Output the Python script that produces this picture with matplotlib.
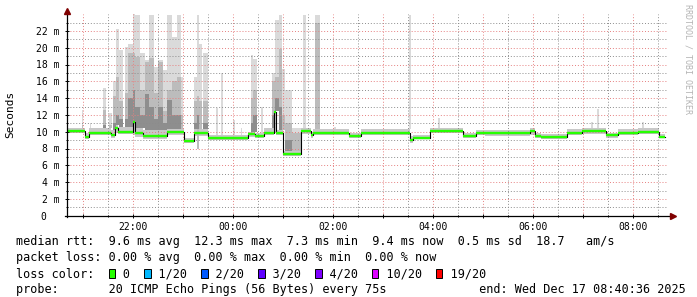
import numpy as np
import matplotlib.pyplot as plt
from matplotlib.patches import Rectangle
from matplotlib.transforms import ScaledTranslation

W, H, DPI = 697, 297, 100
MONO = 'DejaVu Sans Mono'

# time axis in hours since Dec 16 00:00 (24 = 00:00 on Dec 17), 12 h window
t_start, t_end = 20.677, 32.677
hour_ticks = [22, 24, 26, 28, 30, 32]
hour_labels = ['22:00', '00:00', '02:00', '04:00', '06:00', '08:00']

# median rtt as steps: start hour, value (ms), plus smoke band around it
med_t = [20.68, 21.04, 21.12, 21.56, 21.64, 21.70, 22.00, 22.04, 22.20, 22.68,
         23.02, 23.22, 23.50, 24.30, 24.44, 24.62, 24.82, 24.86, 25.00, 25.36,
         25.56, 25.60, 26.32, 26.56, 27.54, 27.60, 27.94, 28.60, 28.86, 29.04,
         29.94, 30.04, 30.16, 30.68, 30.98, 31.46, 31.70, 32.10, 32.52]
med_v = [10.1, 9.4, 9.9, 9.6, 10.4, 10.0, 11.1, 9.8, 9.5, 10.0,
         8.9, 9.9, 9.2, 9.7, 9.5, 9.9, 12.3, 9.9, 7.3, 10.1,
         9.6, 9.9, 9.5, 9.9, 9.0, 9.3, 10.1, 9.5, 9.9, 9.8,
         10.1, 9.5, 9.4, 9.9, 10.1, 9.6, 9.9, 10.0, 9.4]
band_lo = [9.8, 9.1, 9.6, 9.3, 9.8, 9.7, 9.6, 9.4, 9.1, 9.6,
           8.7, 9.5, 9.0, 9.4, 9.2, 9.6, 9.8, 9.6, 7.1, 9.7,
           9.3, 9.6, 9.2, 9.6, 8.7, 9.1, 9.8, 9.2, 9.6, 9.5,
           9.6, 9.2, 9.1, 9.6, 9.7, 9.3, 9.6, 9.7, 9.2]
band_hi = [10.4, 9.9, 10.4, 10.2, 10.8, 10.6, 11.3, 10.4, 10.2, 10.3,
           9.2, 10.3, 9.6, 10.0, 9.9, 10.4, 12.5, 10.2, 7.7, 10.4,
           10.0, 10.3, 9.8, 10.3, 9.5, 9.6, 10.5, 9.8, 10.2, 10.2,
           10.5, 9.9, 9.7, 10.3, 10.5, 9.9, 10.3, 10.4, 9.7]
med_end = 32.64

# smoke spikes: start/end hour, top of light, mid and dark smoke (ms)
nan = np.nan
spike_t0 = [20.97, 21.13, 21.39, 21.52, 21.60, 21.66, 21.72, 21.84, 21.90, 22.00,
            22.04, 22.14, 22.24, 22.32, 22.42, 22.50, 22.60, 22.68, 22.78, 22.88,
            22.96, 23.22, 23.28, 23.32, 23.40, 23.66, 23.76, 24.00, 24.16, 24.36,
            24.40, 24.56, 24.78, 24.84, 24.92, 24.98, 25.04, 25.18, 25.40, 25.64,
            26.02, 27.52, 28.10, 31.16, 31.28, 32.18, 23.28]
spike_t1 = [21.00, 21.15, 21.46, 21.58, 21.66, 21.72, 21.80, 21.90, 22.00, 22.04,
            22.14, 22.24, 22.32, 22.42, 22.50, 22.60, 22.68, 22.78, 22.88, 22.96,
            23.00, 23.28, 23.32, 23.38, 23.50, 23.70, 23.80, 24.04, 24.18, 24.40,
            24.48, 24.60, 24.84, 24.92, 24.98, 25.04, 25.18, 25.36, 25.46, 25.74,
            26.06, 27.56, 28.14, 31.20, 31.32, 32.22, 23.31]
spike_light = [12.6, 11.0, 15.2, 12.2, 16.0, 22.2, 19.7, 20.1, 20.5, 24.0,
               23.9, 19.4, 18.5, 23.9, 17.7, 18.5, 17.3, 23.9, 21.3, 23.9,
               16.5, 16.5, 23.9, 20.5, 19.4, 12.8, 17.0, 11.4, 10.5, 19.1,
               18.7, 13.0, 17.0, 23.3, 23.9, 17.5, 15.0, 10.5, 23.9, 23.9,
               10.6, 23.9, 11.6, 11.2, 12.7, 11.2, 8.0]
spike_mid = [10.8, nan, 12.6, 10.8, 14.2, 16.5, 13.6, 14.6, 19.4, 19.4,
             18.9, 15.0, 18.3, 18.8, 14.6, 18.3, 12.5, 15.0, 16.0, 16.5,
             12.0, 13.6, 14.3, 13.6, 13.6, nan, nan, nan, nan, 14.0,
             15.0, nan, 16.0, 16.5, 19.8, 12.0, 11.0, 9.9, nan, 23.0,
             nan, nan, nan, nan, nan, nan, 8.0]
spike_dark = [nan, nan, 10.8, nan, 11.0, 12.0, 11.5, 11.5, 14.0, 15.0,
              13.0, 12.0, 14.5, 13.0, 11.5, 13.0, 11.0, 13.8, 12.0, 12.0,
              nan, 11.0, 12.0, nan, 11.0, nan, nan, nan, nan, 11.0,
              12.0, nan, 12.0, 14.0, 13.0, nan, 9.0, nan, nan, nan,
              nan, nan, nan, nan, nan, nan, nan]

# legend content
loss_labels = ['0', '1/20', '2/20', '3/20', '4/20', '10/20', '19/20']
loss_colors = ['#26ff00', '#00b8ff', '#0059ff', '#5e00ff', '#7e00ff', '#dd00ff', '#ff0000']
line_rtt = 'median rtt:  9.6 ms avg  12.3 ms max  7.3 ms min  9.4 ms now  0.5 ms sd  18.7   am/s'
line_loss = 'packet loss: 0.00 % avg  0.00 % max  0.00 % min  0.00 % now'
line_probe = 'probe:       20 ICMP Echo Pings (56 Bytes) every 75s'.ljust(65) + 'end: Wed Dec 17 08:40:36 2025'

fig = plt.figure(figsize=(W / DPI, H / DPI), dpi=DPI)
fig.patch.set_facecolor('white')
ax = fig.add_axes([67 / W, 1 - 215.7 / H, 600 / W, 201.6 / H])
ax.set_xlim(t_start, t_end)
ax.set_ylim(0, 24)

# smoke band around the median
edges = np.append(med_t, med_end)
ax.fill_between(edges, np.append(band_lo, band_lo[-1]), np.append(band_hi, band_hi[-1]),
                step='post', color='#c8c8c8', lw=0, zorder=1)

# spikes, drawn light -> dark from the top of the band at their start
idx = np.searchsorted(med_t, spike_t0, side='right') - 1
base = np.array(band_hi)[idx]
widths = np.array(spike_t1) - np.array(spike_t0)
for tops, col in [(spike_light, '#dadada'), (spike_mid, '#bcbcbc'), (spike_dark, '#8e8e8e')]:
    tops = np.array(tops)
    ok = ~np.isnan(tops)
    ax.bar(np.array(spike_t0)[ok], (tops - base)[ok], width=widths[ok], bottom=base[ok],
           align='edge', color=col, linewidth=0, zorder=1)

# median: black steps, green level segments over them
ax.step(edges, np.append(med_v, med_v[-1]), where='post', color='black', lw=0.8, zorder=3)
ax.hlines(med_v, med_t, edges[1:], color='#26ff00', lw=1.7, zorder=4)

# grid
ax.set_xticks(np.arange(21, 33), minor=False)
ax.set_xticks(np.arange(21.5, 33, 1.0), minor=True)
ax.set_xticklabels(['' if h not in hour_ticks else hour_labels[hour_ticks.index(h)]
                    for h in range(21, 33)])
ax.set_yticks(np.arange(0, 24, 2))
ax.set_yticks(np.arange(1, 25, 2), minor=True)
ax.set_yticklabels(['0'] + ['%d m' % v for v in range(2, 24, 2)])
ax.grid(which='major', color=(0.9, 0.5, 0.5, 0.5), lw=0.7, ls=(0, (1, 2)))
ax.grid(which='minor', color=(0.55, 0.55, 0.55, 0.4), lw=0.7, ls=(0, (1, 2)))
ax.set_axisbelow(False)
ax.tick_params(which='both', direction='inout', width=0.7, color='black',
               labelsize=7, labelcolor='black')
ax.tick_params(which='major', length=3)
ax.tick_params(which='minor', length=2)
ax.tick_params(axis='y', pad=4)
ax.tick_params(axis='x', pad=3)
for lab in ax.get_xticklabels() + ax.get_yticklabels():
    lab.set_family(MONO)
zero = ax.yaxis.get_major_ticks()[0].label1
zero.set_transform(zero.get_transform() + ScaledTranslation(-13 / DPI, 0, fig.dpi_scale_trans))

# axes with arrows
for s in ax.spines.values():
    s.set_visible(False)
ax.plot([0, 0], [-0.008, 1.012], transform=ax.transAxes, color='black', lw=0.9, clip_on=False, zorder=5)
ax.plot([-0.003, 1.008], [0, 0], transform=ax.transAxes, color='black', lw=0.9, clip_on=False, zorder=5)
ax.plot([0], [1.015], marker='^', ms=4, color='#7f0000', transform=ax.transAxes, clip_on=False, zorder=6)
ax.plot([1.01], [0], marker='>', ms=4, color='#7f0000', transform=ax.transAxes, clip_on=False, zorder=6)

fig.text(10 / W, 1 - 114 / H, 'Seconds', rotation=90, ha='center', va='center',
         family=MONO, fontsize=8)
fig.text(688 / W, 1 - 4 / H, 'RRDTOOL / TOBI OETIKER', rotation=270, ha='center', va='top',
         family=MONO, fontsize=6, color='#b4b4b4')

# legend lines
fs = 8.5
cw = fs * DPI / 72 * 0.6021
x0 = 16
base_y = [245.3, 261.3, 277.3, 293.3]
fig.text(x0 / W, 1 - base_y[0] / H, line_rtt, family=MONO, fontsize=fs, va='baseline')
fig.text(x0 / W, 1 - base_y[1] / H, line_loss, family=MONO, fontsize=fs, va='baseline')
fig.text(x0 / W, 1 - base_y[3] / H, line_probe, family=MONO, fontsize=fs, va='baseline')
loss_line = 'loss color:  '
col = 13
box_cols = []
for lab in loss_labels:
    box_cols.append(col)
    loss_line = loss_line.ljust(col + 2) + lab
    col = col + 2 + len(lab) + 2
fig.text(x0 / W, 1 - base_y[2] / H, loss_line, family=MONO, fontsize=fs, va='baseline')
for c, color in zip(box_cols, loss_colors):
    bx = x0 + c * cw + 0.5
    fig.patches.append(Rectangle((bx / W, 1 - (base_y[2] + 0.3) / H), 6.5 / W, 8.3 / H,
                                 transform=fig.transFigure, facecolor=color,
                                 edgecolor='black', lw=0.7))

fig.savefig('out.png', dpi=DPI)
